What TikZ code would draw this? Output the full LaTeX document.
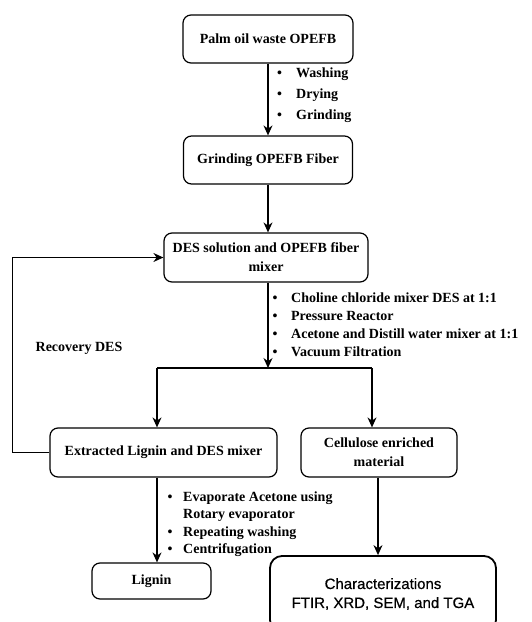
\documentclass[tikz,border=0pt]{standalone}
\usepackage{fontspec}
\setmainfont{Liberation Serif}
\newfontfamily\charfont[FakeBold=0.6]{Liberation Sans}
\usetikzlibrary{arrows.meta, positioning, calc}

\begin{document}
\begin{tikzpicture}[x=1pt, y=-1pt, font=\fontsize{14}{19}\selectfont\bfseries,
        box/.style={draw, rounded corners=8pt, line width=1.2pt, align=center, inner sep=0pt},
        arr/.style={-{Stealth[length=10pt, width=9pt]}, line width=1.2pt},
        steps/.style={anchor=west, align=left, inner sep=0pt}]
    \useasboundingbox (0,0) rectangle (532,622);
    % main column
    \node[box, minimum width=170pt, minimum height=48pt] (palm) at (268,39) {Palm oil waste OPEFB};
    \node[box, minimum width=169pt, minimum height=48pt] (grind) at (268,160) {Grinding OPEFB Fiber};
    \node[box, minimum width=204pt, minimum height=49pt] (des) at (266,257.5) {DES solution and OPEFB fiber\\mixer};
    \node[box, minimum width=227pt, minimum height=49pt] (lignmix) at (163.5,452.5) {Extracted Lignin and DES mixer};
    \node[box, minimum width=156pt, minimum height=49pt] (cell) at (379,452.5) {Cellulose enriched\\material};
    \node[box, minimum width=119pt, minimum height=36pt] (lignin) at (151.5,581) {Lignin};
    \node[box, line width=1.8pt, rounded corners=12pt, minimum width=226pt, minimum height=76pt,
        font=\charfont\fontsize{15}{19}\selectfont] (charact) at (383,594) {Characterizations\\FTIR, XRD, SEM, and TGA};
    % split points
    \coordinate (splitM) at (268,368);
    \coordinate (splitL) at (157,368);
    \coordinate (splitR) at (372,368);
    % connectors
    \draw[arr] (palm.south -| 268,0) -- (grind.north -| 268,0);
    \draw[arr] (grind.south -| 268,0) -- (des.north -| 268,0);
    \draw[arr] (des.south -| splitM) -- (splitM);
    \draw[line width=1.2pt] (splitL) -- (splitR);
    \draw[arr] (splitL) -- (splitL |- lignmix.north);
    \draw[arr] (splitR) -- (splitR |- cell.north);
    \draw[arr] (lignmix.south -| splitL) -- (splitL |- lignin.north);
    \draw[arr] (cell.south -| 378,0) -- (charact.north -| 378,0);
    \draw[arr] (lignmix.west) -- ++(-37,0) |- (des.west);
    % labels
    \node[steps, font=\fontsize{14}{21}\selectfont\bfseries] (wash) at (277,94)
        {\begin{tabular}{@{}p{19pt}@{}l@{}}
        \textbullet & Washing\\
        \textbullet & Drying\\
        \textbullet & Grinding
        \end{tabular}};
    \node[steps, font=\fontsize{14}{17.7}\selectfont\bfseries] (react) at (272.5,326)
        {\begin{tabular}{@{}p{18.5pt}@{}l@{}}
        \textbullet & Choline chloride mixer DES at 1:1\\
        \textbullet & Pressure Reactor\\
        \textbullet & Acetone and Distill water mixer at 1:1\\
        \textbullet & Vacuum Filtration
        \end{tabular}};
    \node[steps, font=\fontsize{14}{17.3}\selectfont\bfseries] (evap) at (167.5,524)
        {\begin{tabular}{@{}p{15.5pt}@{}l@{}}
        \textbullet & Evaporate Acetone using\\
         & Rotary evaporator\\
        \textbullet & Repeating washing\\
        \textbullet & Centrifugation
        \end{tabular}};
    \node (recov) at (79,348) {Recovery DES};
\end{tikzpicture}
\end{document}
